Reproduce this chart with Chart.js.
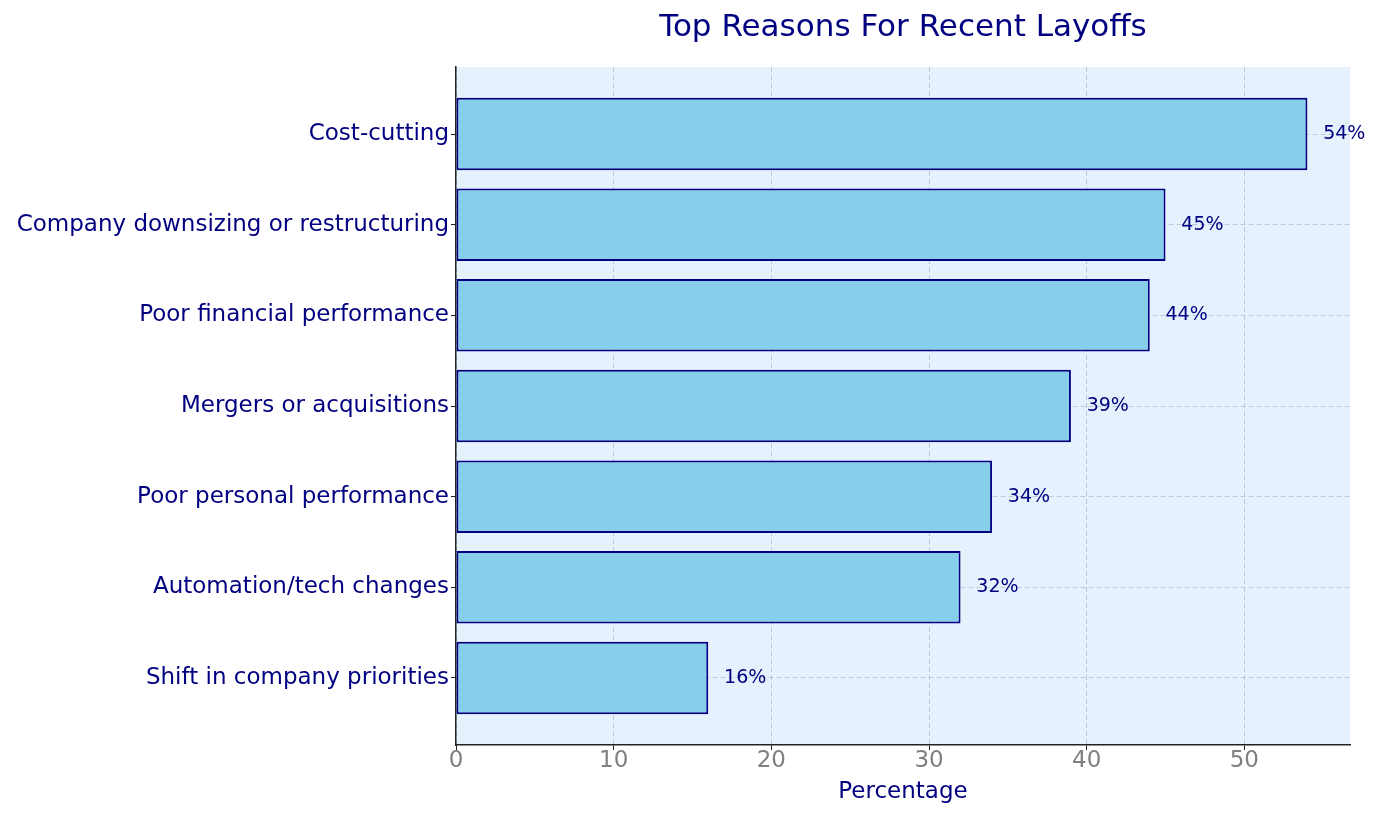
<!DOCTYPE html>
<html>
<head>
<meta charset="utf-8">
<title>Top Reasons For Recent Layoffs</title>
<script src="https://cdn.jsdelivr.net/npm/chart.js@4"></script>
<style>
  html, body { margin: 0; padding: 0; background: #fff; }
  #wrap { width: 1379px; height: 819px; }
</style>
</head>
<body>
<div id="wrap"><canvas id="layoffChart" width="1379" height="819"></canvas></div>
<script>
// Data
const reasons = [
    'Cost-cutting',
    'Company downsizing or restructuring',
    'Poor financial performance',
    'Mergers or acquisitions',
    'Poor personal performance',
    'Automation/tech changes',
    'Shift in company priorities'
];
const percentages = [54, 45, 44, 39, 34, 32, 16];
const xTicks = [0, 10, 20, 30, 40, 50];

const navy = '#000080';
const font = "'DejaVu Sans', sans-serif";
const gridColor = 'rgba(150,165,185,0.5)';

// plot background like matplotlib facecolor
const plotBg = {
    id: 'plotBg',
    beforeDraw(chart) {
        const a = chart.chartArea;
        const ctx = chart.ctx;
        ctx.save();
        ctx.fillStyle = '#e5f1fd';
        ctx.fillRect(a.left, a.top, a.right - a.left, a.bottom - a.top);
        ctx.restore();
    }
};

// "54%" style labels next to the bars
const valueLabels = {
    id: 'valueLabels',
    afterDraw(chart) {
        const ctx = chart.ctx;
        const xs = chart.scales.x;
        const ys = chart.scales.y;
        ctx.save();
        ctx.font = '19px ' + font;
        ctx.fillStyle = navy;
        ctx.textAlign = 'left';
        ctx.textBaseline = 'middle';
        percentages.forEach((v, i) => {
            ctx.fillText(v + '%', xs.getPixelForValue(v + 1), ys.getPixelForValue(i));
        });
        ctx.restore();
    }
};

const ctx = document.getElementById('layoffChart').getContext('2d');
new Chart(ctx, {
    type: 'bar',
    data: {
        datasets: [{
            data: percentages.map((v, i) => ({ x: v, y: i })),
            backgroundColor: '#87ceeb',
            borderColor: navy,
            borderWidth: 2,
            borderSkipped: false,
            barPercentage: 0.8,
            categoryPercentage: 1
        }]
    },
    options: {
        indexAxis: 'y',
        responsive: false,
        animation: false,
        layout: { padding: { left: 0, right: 29, top: 0, bottom: 0 } },
        plugins: {
            legend: { display: false },
            tooltip: { enabled: false },
            title: {
                display: true,
                fullSize: false, // center over the plot area, like matplotlib
                text: 'Top Reasons For Recent Layoffs',
                color: navy,
                font: { family: font, size: 31, weight: 'normal', lineHeight: 1.2 },
                padding: { top: 9.4, bottom: 20.4 }
            }
        },
        scales: {
            x: {
                type: 'linear',
                min: 0,
                max: 56.7,
                z: 1,
                afterFit(scale) { scale.height = 74; },
                afterBuildTicks(scale) { scale.ticks = xTicks.map(v => ({ value: v })); },
                border: { color: '#222', width: 1.5, dash: [5, 3] },
                grid: {
                    color: gridColor,
                    tickColor: '#222',
                    tickBorderDash: [],
                    tickLength: 5,
                    lineWidth: 1
                },
                ticks: {
                    color: '#808080',
                    padding: 0,
                    font: { family: font, size: 23, lineHeight: 1 }
                },
                title: {
                    display: true,
                    text: 'Percentage',
                    color: navy,
                    font: { family: font, size: 23, lineHeight: 1.2 },
                    padding: { top: 0, bottom: 13 }
                }
            },
            y: {
                type: 'linear',
                min: -0.74,
                max: 6.74,
                reverse: true,
                offset: false,
                z: 1,
                afterFit(scale) { scale.width = 456; },
                afterBuildTicks(scale) { scale.ticks = reasons.map((r, i) => ({ value: i })); },
                border: { color: '#222', width: 1.5, dash: [5, 3] },
                grid: {
                    offset: false,
                    color: gridColor,
                    tickColor: '#222',
                    tickBorderDash: [],
                    tickLength: 5,
                    lineWidth: 1
                },
                ticks: {
                    color: navy,
                    padding: 2,
                    font: { family: font, size: 23 },
                    callback: (v) => reasons[v] !== undefined ? reasons[v] : ''
                }
            }
        }
    },
    plugins: [plotBg, valueLabels]
});
</script>
</body>
</html>
